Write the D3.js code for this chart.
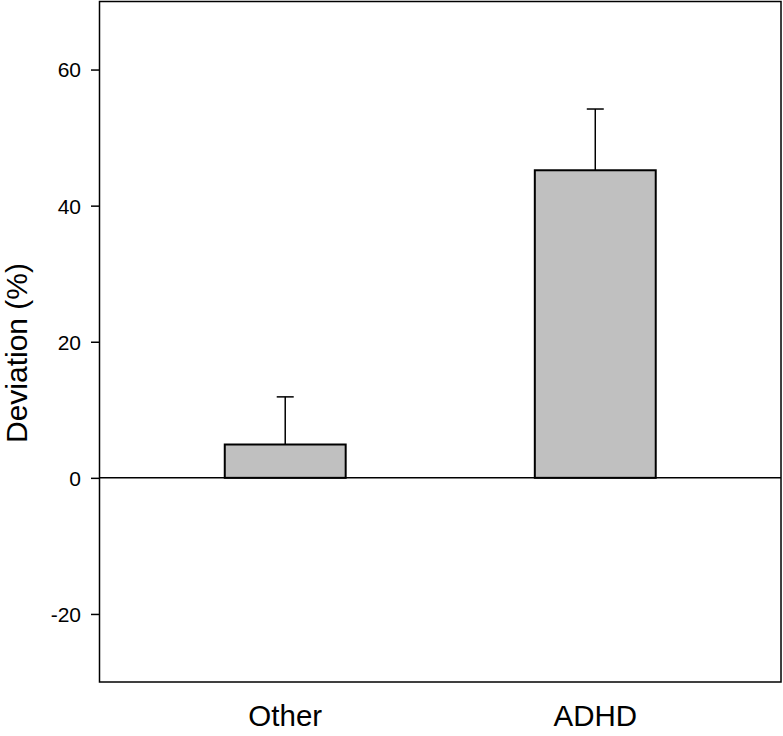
<!DOCTYPE html>
<html>
<head>
<meta charset="utf-8">
<script src="https://cdn.jsdelivr.net/npm/d3@7"></script>
<style>
  body { margin: 0; background: #fff; }
  svg text { font-family: "Liberation Sans", Arial, sans-serif; fill: #000; }
</style>
</head>
<body>
<div id="chart"></div>
<script>
const categories = ["Other", "ADHD"];
const deviation = [4.9, 45.2];
const errorTop = [11.9, 54.2];
const yTicks = [-20, 0, 20, 40, 60];

const width = 783;
const height = 736;
const plotLeft = 99.5, plotRight = 781, plotTop = 1.5, plotBottom = 682;

const svg = d3.select("#chart")
	.append("svg")
	.attr("width", width)
	.attr("height", height);

const x = d3.scaleBand()
	.domain(categories)
	.range([plotLeft, plotRight])
	.paddingInner(0.61)
	.paddingOuter(0.404);

const y = d3.scaleLinear()
	.domain([-30, 70])
	.range([plotBottom, plotTop]);

// y axis with ticks outward, plain hyphen for negatives
const yAxis = svg.append("g")
	.attr("transform", `translate(${plotLeft},0)`)
	.call(d3.axisLeft(y)
		.tickValues(yTicks)
		.tickFormat(d => String(d))
		.tickSize(8.5)
		.tickPadding(10)
		.tickSizeOuter(0));
yAxis.select(".domain").remove();
yAxis.selectAll("line").attr("stroke", "#000").attr("stroke-width", 1.5);
yAxis.selectAll("text")
	.attr("font-size", 21)
	.attr("dy", "0.35em")
	.style("font-family", "Liberation Sans, Arial, sans-serif");

// zero line
svg.append("line")
	.attr("x1", plotLeft).attr("x2", plotRight)
	.attr("y1", y(0)).attr("y2", y(0))
	.attr("stroke", "#000")
	.attr("stroke-width", 1.5);

// error bars (upper only)
const cap = 17;
const eb = svg.append("g");
categories.forEach((c, i) => {
	const cx = x(c) + x.bandwidth() / 2;
	eb.append("line")
		.attr("x1", cx).attr("x2", cx)
		.attr("y1", y(deviation[i])).attr("y2", y(errorTop[i]))
		.attr("stroke", "#000").attr("stroke-width", 1.5);
	eb.append("line")
		.attr("x1", cx - cap / 2).attr("x2", cx + cap / 2)
		.attr("y1", y(errorTop[i])).attr("y2", y(errorTop[i]))
		.attr("stroke", "#000").attr("stroke-width", 1.5);
});

// bars
svg.selectAll("rect.bar")
	.data(categories)
	.enter()
	.append("rect")
	.attr("class", "bar")
	.attr("x", d => x(d))
	.attr("width", x.bandwidth())
	.attr("y", (d, i) => y(deviation[i]))
	.attr("height", (d, i) => y(0) - y(deviation[i]))
	.attr("fill", "#c0c0c0")
	.attr("stroke", "#000")
	.attr("stroke-width", 2);

// frame
svg.append("rect")
	.attr("x", plotLeft).attr("y", plotTop)
	.attr("width", plotRight - plotLeft).attr("height", plotBottom - plotTop)
	.attr("fill", "none")
	.attr("stroke", "#000")
	.attr("stroke-width", 1.5);

// category labels
svg.append("g")
	.selectAll("text")
	.data(categories)
	.enter()
	.append("text")
	.attr("x", d => x(d) + x.bandwidth() / 2)
	.attr("y", 726)
	.attr("text-anchor", "middle")
	.attr("font-size", 29.5)
	.text(d => d);

// y title
svg.append("text")
	.attr("transform", "translate(27,353) rotate(-90)")
	.attr("text-anchor", "middle")
	.attr("font-size", 30)
	.text("Deviation (%)");
</script>
</body>
</html>
